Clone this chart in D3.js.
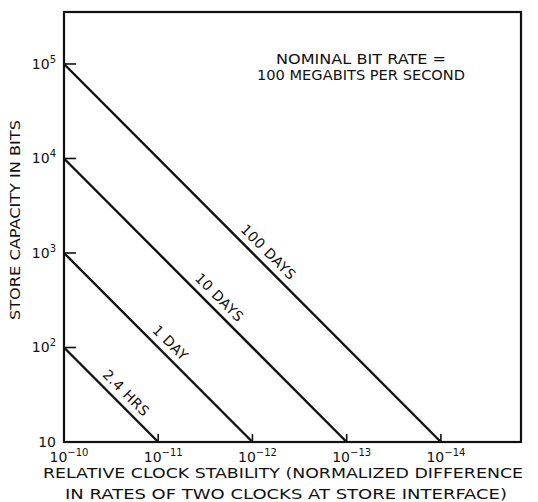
<!DOCTYPE html>
<html>
<head>
<meta charset="utf-8">
<script src="https://cdn.jsdelivr.net/npm/d3@7"></script>
<style>
  body { margin: 0; background: #fff; }
  text { font-family: "DejaVu Sans", sans-serif; fill: #111; }
</style>
</head>
<body>
<div id="chart"></div>
<script>
// tick exponents for each axis
var xTickExp = [-10, -11, -12, -13, -14];
var yTickExp = [1, 2, 3, 4, 5];

// lines: label, capacity at stability 1e-10, stability where capacity drops to 10
var lineLabels = ["100 DAYS", "10 DAYS", "1 DAY", "2.4 HRS"];
var lineStartBits = [1e5, 1e4, 1e3, 1e2];
var lineEndStab = [1e-14, 1e-13, 1e-12, 1e-11];

var noteLines = ["NOMINAL BIT RATE =", "100 MEGABITS PER SECOND"];
var xTitle = ["RELATIVE CLOCK STABILITY (NORMALIZED DIFFERENCE", "IN RATES OF TWO CLOCKS AT STORE INTERFACE)"];
var yTitle = "STORE CAPACITY IN BITS";

var W = 538, H = 502;
var margin = {top: 12, right: 17, bottom: 60, left: 64};

var x = d3.scaleLog()
    .domain([1e-10, Math.pow(10, -14.85)])
    .range([margin.left, W - margin.right]);
var y = d3.scaleLog()
    .domain([10, Math.pow(10, 5.55)])
    .range([H - margin.bottom, margin.top]);

var svg = d3.select('#chart').append("svg")
    .attr("width", W)
    .attr("height", H);

// frame
svg.append("rect")
    .attr("x", x.range()[0])
    .attr("y", y.range()[1])
    .attr("width", x.range()[1] - x.range()[0])
    .attr("height", y.range()[0] - y.range()[1])
    .attr("fill", "none")
    .attr("stroke", "#111")
    .attr("stroke-width", 2.2);

// y ticks (inward) and labels
var yt = svg.selectAll(".ytick").data(yTickExp).enter().append("g").attr("class", "ytick");
yt.filter(function (e) { return e > 1; }).append("line")
    .attr("x1", margin.left).attr("x2", margin.left + 12)
    .attr("y1", function (e) { return y(Math.pow(10, e)); })
    .attr("y2", function (e) { return y(Math.pow(10, e)); })
    .attr("stroke", "#111").attr("stroke-width", 1.6);
var ylab = yt.append("text")
    .attr("x", margin.left - 8)
    .attr("y", function (e) { return y(Math.pow(10, e)) + 5; })
    .attr("text-anchor", "end")
    .attr("font-size", 14);
ylab.append("tspan").text("10");
ylab.filter(function (e) { return e > 1; }).append("tspan")
    .attr("dy", -6).attr("font-size", 10)
    .text(function (e) { return e; });

// x ticks (inward) and labels
var xt = svg.selectAll(".xtick").data(xTickExp).enter().append("g").attr("class", "xtick");
xt.filter(function (e) { return e < -10; }).append("line")
    .attr("x1", function (e) { return x(Math.pow(10, e)); })
    .attr("x2", function (e) { return x(Math.pow(10, e)); })
    .attr("y1", y.range()[0]).attr("y2", y.range()[0] - 8)
    .attr("stroke", "#111").attr("stroke-width", 1.6);
var xlab = xt.append("text")
    .attr("x", function (e) { return x(Math.pow(10, e)) + 5; })
    .attr("y", y.range()[0] + 20)
    .attr("text-anchor", "middle")
    .attr("font-size", 14);
xlab.append("tspan").text("10");
xlab.append("tspan")
    .attr("dy", -6).attr("font-size", 10)
    .text(function (e) { return "\u2212" + (-e); });

// lines
var lines = lineLabels.map(function (l, i) {
    return {label: l, pts: [[1e-10, lineStartBits[i]], [lineEndStab[i], 10]]};
});
var lineGen = d3.line()
    .x(function (d) { return x(d[0]); })
    .y(function (d) { return y(d[1]); });

svg.selectAll(".dline").data(lines).enter().append("path")
    .attr("class", "dline")
    .attr("d", function (d) { return lineGen(d.pts); })
    .attr("fill", "none")
    .attr("stroke", "#111")
    .attr("stroke-width", 2.4);

// line labels, rotated along each line
svg.selectAll(".llab").data(lines).enter().append("text")
    .attr("class", "llab")
    .attr("transform", function (d, i) {
        var p0 = d.pts[0], p1 = d.pts[1];
        var t = i === 3 ? 0.57 : 0.52;
        var px = x(p0[0]) + t * (x(p1[0]) - x(p0[0]));
        var py = y(p0[1]) + t * (y(p1[1]) - y(p0[1]));
        var ang = Math.atan2(y(p1[1]) - y(p0[1]), x(p1[0]) - x(p0[0])) * 180 / Math.PI;
        return "translate(" + px + "," + py + ") rotate(" + ang + ")";
    })
    .attr("y", -7)
    .attr("text-anchor", "middle")
    .attr("font-size", 14)
    .attr("letter-spacing", 0.5)
    .text(function (d) { return d.label; });

// note
svg.selectAll(".note").data(noteLines).enter().append("text")
    .attr("class", "note")
    .attr("x", 361)
    .attr("y", function (d, i) { return 64 + i * 16; })
    .attr("text-anchor", "middle")
    .attr("font-size", 14)
    .attr("textLength", function (d, i) { return i === 0 ? 170 : 208; })
    .attr("lengthAdjust", "spacingAndGlyphs")
    .text(function (d) { return d; });

// axis titles
svg.selectAll(".xtitle").data(xTitle).enter().append("text")
    .attr("class", "xtitle")
    .attr("x", function (d, i) { return i === 0 ? 283 : 286; })
    .attr("y", function (d, i) { return 478 + i * 21; })
    .attr("text-anchor", "middle")
    .attr("font-size", 14.5)
    .attr("textLength", function (d, i) { return i === 0 ? 480 : 442; })
    .attr("lengthAdjust", "spacingAndGlyphs")
    .text(function (d) { return d; });

svg.append("text")
    .attr("transform", "translate(20,220) rotate(-90)")
    .attr("text-anchor", "middle")
    .attr("font-size", 14)
    .attr("textLength", 200)
    .attr("lengthAdjust", "spacingAndGlyphs")
    .text(yTitle);
</script>
</body>
</html>
